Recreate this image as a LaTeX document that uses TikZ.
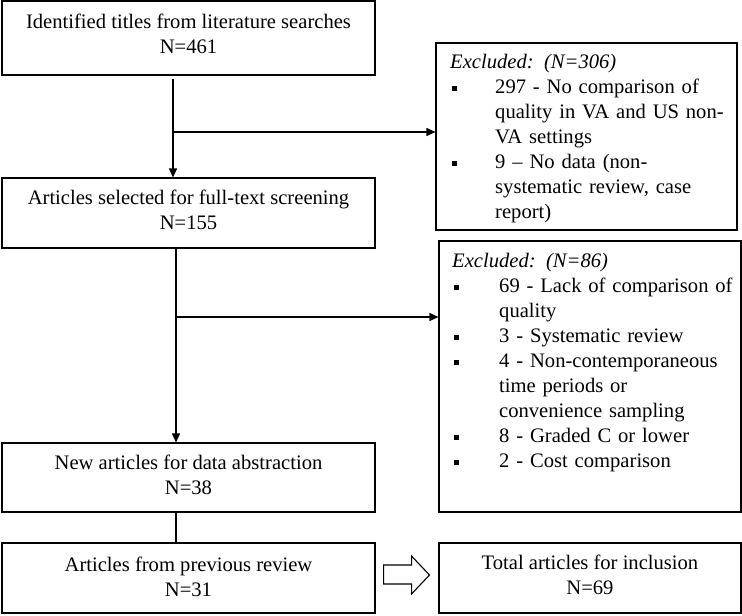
\documentclass[tikz,border=0pt]{standalone}
\usepackage{fontspec}
\setmainfont{Liberation Serif}
\usetikzlibrary{arrows.meta,calc}
\newcommand{\blt}[1]{\makebox[#1][l]{\hspace{1.5pt}\rule[1.8pt]{5pt}{5pt}}}
\begin{document}
\begin{tikzpicture}[x=1pt,y=-1pt,
  box/.style={draw=black,line width=1.1pt,inner sep=0pt,rectangle},
  txt/.style={inner sep=0pt,align=center,anchor=base,font=\fontsize{20.6}{25}\selectfont},
  lst/.style={inner sep=0pt,anchor=base west,text width=288pt,align=left,font=\fontsize{20.6}{25}\selectfont},
  arr/.style={line width=1.1pt,-{Triangle[length=9pt,width=8pt]}},
  ln/.style={line width=1.1pt}]
\useasboundingbox (0,0) rectangle (742,616);
% boxes
\node[box,minimum width=373pt,minimum height=74pt] (b1) at (188.5,38) {};
\node[box,minimum width=373pt,minimum height=70pt] (b2) at (188.5,213) {};
\node[box,minimum width=373pt,minimum height=69pt] (b3) at (188.5,477.5) {};
\node[box,minimum width=373pt,minimum height=70pt] (b4) at (188.5,578) {};
\node[box,minimum width=301pt,minimum height=187pt] (e1) at (586.5,136.5) {};
\node[box,minimum width=302pt,minimum height=271pt] (e2) at (590,376.5) {};
\node[box,minimum width=302pt,minimum height=70pt] (tot) at (590,578) {};
% texts (base = baseline of last line)
\node[txt] (t1) at (188.5,53) {Identified titles from literature searches\\N=461};
\node[txt] (t2) at (188.5,229) {Articles selected for full-text screening\\N=155};
\node[txt] (t3) at (188.5,494) {New articles for data abstraction\\N=38};
\node[txt] (t4) at (188.5,596) {Articles from previous review\\N=31};
\node[txt] (tt) at (590,594) {Total articles for inclusion\\N=69};
\node[lst] (x1) at (450,68) {\textit{Excluded: (N=306)}\\
\blt{45pt}297 - No comparison of\\
\hspace*{45pt}quality in VA and US non-\\
\hspace*{45pt}VA settings\\
\blt{45pt}9 -- No data (non-\\
\hspace*{45pt}systematic review, case\\
\hspace*{45pt}report)};
\node[lst] (x2) at (452,267) {\textit{Excluded: (N=86)}\\
\blt{47pt}69 - Lack of comparison of\\
\hspace*{47pt}quality\\
\blt{47pt}3 - Systematic review\\
\blt{47pt}4 - Non-contemporaneous\\
\hspace*{47pt}time periods or\\
\hspace*{47pt}convenience sampling\\
\blt{47pt}8 - Graded C or lower\\
\blt{47pt}2 - Cost comparison};
% connectors
\coordinate (c1) at (173,132);
\coordinate (c2) at (176,317);
\draw[arr] ($(b1.south -| c1)+(0,3)$) -- (b2.north -| c1);
\draw[arr] (c1) -- (e1.west |- c1);
\draw[arr] (b2.south -| c2) -- (b3.north -| c2);
\draw[arr] (c2) -- (e2.west |- c2);
\draw[ln] (b3.south -| c2) -- (b4.north -| c2);
% block arrow
\draw[line width=1.1pt,line join=miter]
  ($(b4.east)+(8,-13)$) -- ++(28,0) -- ++(0,-9) -- ($(tot.west)+(-9,-3)$)
  -- ($(b4.east)+(36,16)$) -- ++(0,-10) -- ++(-28,0) -- cycle;
\end{tikzpicture}
\end{document}
